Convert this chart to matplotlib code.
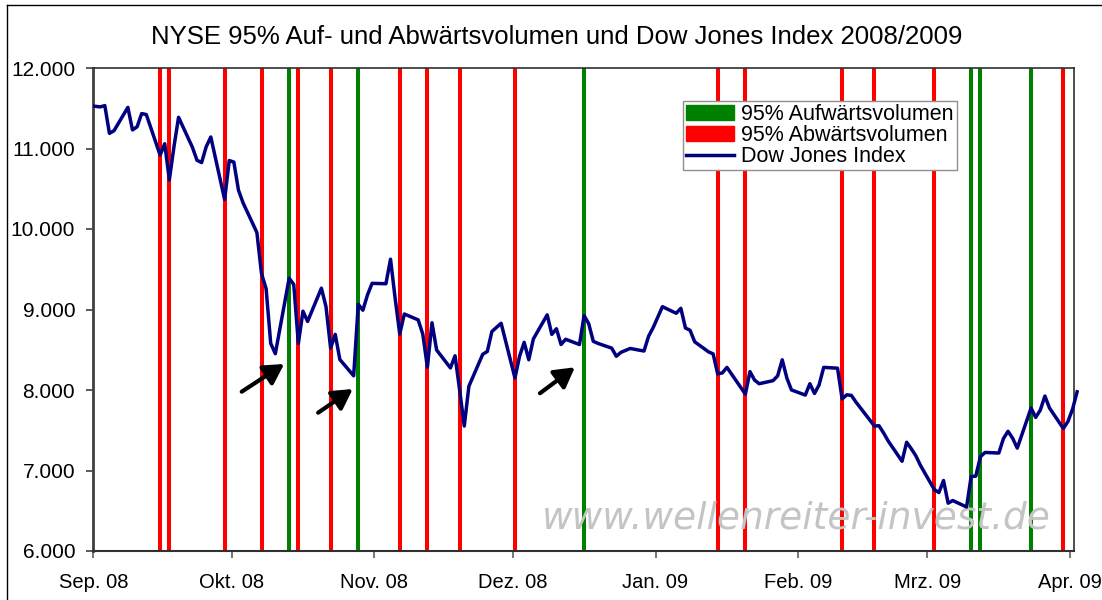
#!/usr/bin/env python3
"""
NYSE 95% Auf- und Abwärtsvolumen und Dow Jones Index 2008/2009
"""
import pandas as pd
import matplotlib
matplotlib.use("Agg")
import matplotlib.pyplot as plt
from matplotlib.patches import Patch, Rectangle
from matplotlib.lines import Line2D

plt.rcParams["font.family"] = ["Liberation Sans", "DejaVu Sans"]

# --------------------------------------------------------------------------- #
# Daten
# --------------------------------------------------------------------------- #
DOW_DATES = [
    "2008-08-29", "2008-09-02", "2008-09-03", "2008-09-04", "2008-09-05",
    "2008-09-08", "2008-09-09", "2008-09-10", "2008-09-11", "2008-09-12",
    "2008-09-15", "2008-09-16", "2008-09-17", "2008-09-18", "2008-09-19",
    "2008-09-22", "2008-09-23", "2008-09-24", "2008-09-25", "2008-09-26",
    "2008-09-29", "2008-09-30", "2008-10-01", "2008-10-02", "2008-10-03",
    "2008-10-06", "2008-10-07", "2008-10-08", "2008-10-09", "2008-10-10",
    "2008-10-13", "2008-10-14", "2008-10-15", "2008-10-16", "2008-10-17",
    "2008-10-20", "2008-10-21", "2008-10-22", "2008-10-23", "2008-10-24",
    "2008-10-27", "2008-10-28", "2008-10-29", "2008-10-30", "2008-10-31",
    "2008-11-03", "2008-11-04", "2008-11-05", "2008-11-06", "2008-11-07",
    "2008-11-10", "2008-11-11", "2008-11-12", "2008-11-13", "2008-11-14",
    "2008-11-17", "2008-11-18", "2008-11-19", "2008-11-20", "2008-11-21",
    "2008-11-24", "2008-11-25", "2008-11-26", "2008-11-28",
    "2008-12-01", "2008-12-02", "2008-12-03", "2008-12-04", "2008-12-05",
    "2008-12-08", "2008-12-09", "2008-12-10", "2008-12-11", "2008-12-12",
    "2008-12-15", "2008-12-16", "2008-12-17", "2008-12-18", "2008-12-19",
    "2008-12-22", "2008-12-23", "2008-12-24", "2008-12-26",
    "2008-12-29", "2008-12-30", "2008-12-31", "2009-01-02",
    "2009-01-05", "2009-01-06", "2009-01-07", "2009-01-08", "2009-01-09",
    "2009-01-12", "2009-01-13", "2009-01-14", "2009-01-15", "2009-01-16",
    "2009-01-20", "2009-01-21", "2009-01-22", "2009-01-23",
    "2009-01-26", "2009-01-27", "2009-01-28", "2009-01-29", "2009-01-30",
    "2009-02-02", "2009-02-03", "2009-02-04", "2009-02-05", "2009-02-06",
    "2009-02-09", "2009-02-10", "2009-02-11", "2009-02-12", "2009-02-13",
    "2009-02-17", "2009-02-18", "2009-02-19", "2009-02-20",
    "2009-02-23", "2009-02-24", "2009-02-25", "2009-02-26", "2009-02-27",
    "2009-03-02", "2009-03-03", "2009-03-04", "2009-03-05", "2009-03-06",
    "2009-03-09", "2009-03-10", "2009-03-11", "2009-03-12", "2009-03-13",
    "2009-03-16", "2009-03-17", "2009-03-18", "2009-03-19", "2009-03-20",
    "2009-03-23", "2009-03-24", "2009-03-25", "2009-03-26", "2009-03-27",
    "2009-03-30", "2009-03-31", "2009-04-01", "2009-04-02",
]
DOW_VALUES = [
    11543, 11517, 11533, 11188, 11221,
    11511, 11231, 11269, 11434, 11422,
    10918, 11059, 10610, 11020, 11388,
    11016, 10854, 10825, 11022, 11143,
    10365, 10851, 10831, 10483, 10325,
    9956, 9447, 9258, 8579, 8451,
    9388, 9311, 8578, 8979, 8852,
    9265, 9034, 8519, 8691, 8379,
    8176, 9065, 8991, 9181, 9325,
    9320, 9625, 9139, 8696, 8944,
    8871, 8694, 8283, 8835, 8497,
    8274, 8425, 7997, 7552, 8046,
    8443, 8479, 8727, 8829,
    8149, 8419, 8592, 8376, 8635,
    8934, 8691, 8761, 8565, 8630,
    8565, 8924, 8824, 8605, 8579,
    8520, 8419, 8468, 8516,
    8484, 8668, 8776, 9035,
    8953, 9015, 8770, 8742, 8599,
    8474, 8449, 8200, 8212, 8281,
    7949, 8228, 8123, 8078,
    8116, 8175, 8375, 8149, 8001,
    7937, 8078, 7957, 8063, 8281,
    8271, 7889, 7940, 7933, 7850,
    7553, 7556, 7466, 7366,
    7115, 7351, 7271, 7182, 7063,
    6763, 6726, 6876, 6594, 6627,
    6547, 6926, 6930, 7170, 7224,
    7217, 7396, 7487, 7401, 7278,
    7776, 7660, 7750, 7925, 7776,
    7522, 7609, 7762, 7978,
]

UP_DAYS = ["2008-10-13", "2008-10-28", "2008-12-16",
           "2009-03-10", "2009-03-12", "2009-03-23"]
DOWN_DAYS = ["2008-09-15", "2008-09-17", "2008-09-29", "2008-10-07",
             "2008-10-15", "2008-10-22", "2008-11-06", "2008-11-12",
             "2008-11-19", "2008-12-01", "2009-01-14", "2009-01-20",
             "2009-02-10", "2009-02-17", "2009-03-02", "2009-03-30"]

# Pfeile (Start -> Spitze)
ARROW_FROM_DATES = ["2008-10-03 05:00", "2008-10-19 19:00", "2008-12-06 22:00"]
ARROW_FROM_VALUES = [7979, 7718, 7959]
ARROW_TO_DATES = ["2008-10-12 10:00", "2008-10-27 07:00", "2008-12-14 12:00"]
ARROW_TO_VALUES = [8323, 8012, 8282]

MONTH_TICKS = ["2008-09-01", "2008-10-01", "2008-11-01", "2008-12-01",
               "2009-01-01", "2009-02-01", "2009-03-01", "2009-04-01"]
MONTH_LABELS = ["Sep. 08", "Okt. 08", "Nov. 08", "Dez. 08",
                "Jan. 09", "Feb. 09", "Mrz. 09", "Apr. 09"]
Y_TICKS = [6000, 7000, 8000, 9000, 10000, 11000, 12000]
Y_LABELS = ["6.000", "7.000", "8.000", "9.000", "10.000", "11.000", "12.000"]

# --------------------------------------------------------------------------- #
RED = "#FF0000"
GREEN = "#008000"
NAVY = "#000080"
HALF_DAY = pd.Timedelta(hours=12)   # Excel setzt die Punkte in die Tagesmitte

fig = plt.figure(figsize=(11.02, 6.0), dpi=100)
ax = fig.add_axes([93.3 / 1102, 49 / 600, 980.4 / 1102, 483 / 600])

for d in DOWN_DAYS:
    ax.axvline(pd.Timestamp(d) + HALF_DAY, color=RED, lw=2.9, zorder=1)
for d in UP_DAYS:
    ax.axvline(pd.Timestamp(d) + HALF_DAY, color=GREEN, lw=2.9, zorder=1)

x = pd.to_datetime(DOW_DATES) + HALF_DAY
line, = ax.plot(x, DOW_VALUES, color=NAVY, lw=2.5, zorder=3,
                solid_joinstyle="round")
clip = Rectangle((0, 0), 1.005, 1, transform=ax.transAxes)
line.set_clip_path(clip)

for f_d, f_v, t_d, t_v in zip(ARROW_FROM_DATES, ARROW_FROM_VALUES,
                              ARROW_TO_DATES, ARROW_TO_VALUES):
    ax.annotate("", xy=(pd.Timestamp(t_d), t_v),
                xytext=(pd.Timestamp(f_d), f_v),
                arrowprops=dict(arrowstyle="-|>,head_length=0.6,head_width=0.34",
                                color="black", lw=3, mutation_scale=20,
                                shrinkA=0, shrinkB=0),
                zorder=4)

ax.text(0.717, 0.068, "www.wellenreiter-invest.de", transform=ax.transAxes,
        ha="center", va="center", fontsize=27, style="italic",
        family="DejaVu Sans", color="#c4c4c4", zorder=2)

# Achsen
ax.set_xlim(pd.Timestamp("2008-09-01"), pd.Timestamp("2009-04-01 18:00"))
ax.set_ylim(6000, 12000)
ax.set_xticks(pd.to_datetime(MONTH_TICKS))
ax.set_xticklabels(MONTH_LABELS)
ax.set_yticks(Y_TICKS)
ax.set_yticklabels(Y_LABELS)
ax.tick_params(axis="x", direction="out", length=5, width=1.2,
               color="#606060", labelsize=14.5, pad=11)
ax.tick_params(axis="y", direction="out", length=5, width=1.2,
               color="#404040", labelsize=15, pad=8)
for side in ["top", "right"]:
    ax.spines[side].set_color("#303030")
    ax.spines[side].set_linewidth(1.2)
ax.spines["left"].set_color("#404040")
ax.spines["left"].set_linewidth(2)
ax.spines["bottom"].set_color("#303030")
ax.spines["bottom"].set_linewidth(1.5)

# Legende
handles = [Patch(facecolor=GREEN, edgecolor=GREEN),
           Patch(facecolor=RED, edgecolor=RED),
           Line2D([], [], color=NAVY, lw=2.5)]
labels = ["95% Aufwärtsvolumen", "95% Abwärtsvolumen", "Dow Jones Index"]
leg = ax.legend(handles, labels, loc="upper left",
                bbox_to_anchor=(0.6015, 0.9317), borderaxespad=0,
                fontsize=15.5, frameon=True, fancybox=False,
                edgecolor="#909090", framealpha=1, handlelength=2.2,
                handletextpad=0.35, labelspacing=0.0, borderpad=0.15)
leg.get_frame().set_linewidth(1.0)

fig.text(0.5054, 0.938, "NYSE 95% Auf- und Abwärtsvolumen und Dow Jones Index 2008/2009",
         ha="center", va="center", fontsize=18.5)

# Rahmen der Diagrammfläche
fig.add_artist(Line2D([7 / 1102, 7 / 1102], [0, 1 - 5 / 600],
                      transform=fig.transFigure, color="black", lw=1))
fig.add_artist(Line2D([7 / 1102, 1], [1 - 5 / 600, 1 - 5 / 600],
                      transform=fig.transFigure, color="black", lw=1))

fig.savefig("out.png", dpi=100)
